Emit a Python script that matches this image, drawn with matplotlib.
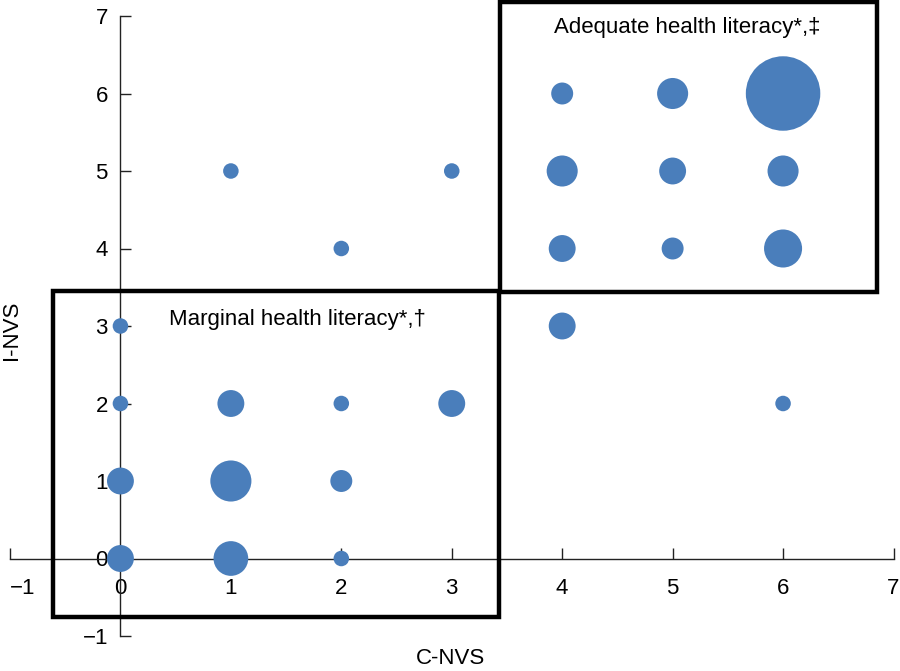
import matplotlib
matplotlib.use("Agg")
import matplotlib.pyplot as plt
from matplotlib.patches import Rectangle
import numpy as np

plt.rcParams['font.family'] = ['Liberation Sans', 'DejaVu Sans']

# Data: C-NVS score, I-NVS score, number of participants
c_nvs = [0, 1, 2, 0, 1, 2, 0, 1, 2, 3, 6, 0, 4, 2, 4, 5, 6, 1, 3, 4, 5, 6, 4, 5, 6]
i_nvs = [0, 0, 0, 1, 1, 1, 2, 2, 2, 2, 2, 3, 3, 4, 4, 4, 4, 5, 5, 5, 5, 5, 6, 6, 6]
counts = [3, 5, 1, 3, 7, 2, 1, 3, 1, 3, 1, 1, 3, 1, 3, 2, 6, 1, 1, 4, 3, 4, 2, 4, 23]

ticks = [-1, 0, 1, 2, 3, 4, 5, 6, 7]
x_label = "C-NVS"
y_label = "I-NVS"
box_labels = ["Marginal health literacy*,\u2020", "Adequate health literacy*,\u2021"]

fig = plt.figure(figsize=(9, 6.71), dpi=100)
ax = fig.add_axes([10/900, 35/671, 883.5/900, 620/671])

ax.scatter(c_nvs, i_nvs, s=np.array(counts) * 125, color='#4a7ebb',
           edgecolors='none', zorder=3, clip_on=False)

ax.set_xlim(-1, 7)
ax.set_ylim(-1, 7)
ax.set_xticks(ticks)
ax.set_yticks(ticks)

for side in ['top', 'right']:
    ax.spines[side].set_visible(False)
ax.spines['left'].set_position(('data', 0))
ax.spines['bottom'].set_position(('data', 0))
for side in ['left', 'bottom']:
    ax.spines[side].set_linewidth(1.0)
    ax.spines[side].set_color('#222222')

ax.tick_params(axis='x', direction='in', length=8, width=1.0, pad=14, labelsize=16, color='#222222')
ax.tick_params(axis='y', direction='in', length=8, width=1.0, pad=9, labelsize=16, color='#222222')
ax.get_xticklabels()[0].set_ha('left')

# Boxes
ax.add_patch(Rectangle((-0.615, -0.76), 3.43 + 0.615, 3.45 + 0.76, fill=False,
                       lw=3.2, edgecolor='black', clip_on=False, zorder=4))
ax.add_patch(Rectangle((3.44, 3.44), 6.85 - 3.44, 7.18 - 3.44, fill=False,
                       lw=3.2, edgecolor='black', clip_on=False, zorder=4))

ax.text(1.6, 3.09, box_labels[0], ha='center', va='center', fontsize=16)
ax.text(5.13, 6.85, box_labels[1], ha='center', va='center', fontsize=16)

fig.text(451/900, 1 - 659/671, x_label, ha='center', va='center', fontsize=16)
fig.text(1/900, 1 - 330/671, y_label, ha='left', va='center', fontsize=16, rotation=90)

fig.savefig("out.png", dpi=100)
